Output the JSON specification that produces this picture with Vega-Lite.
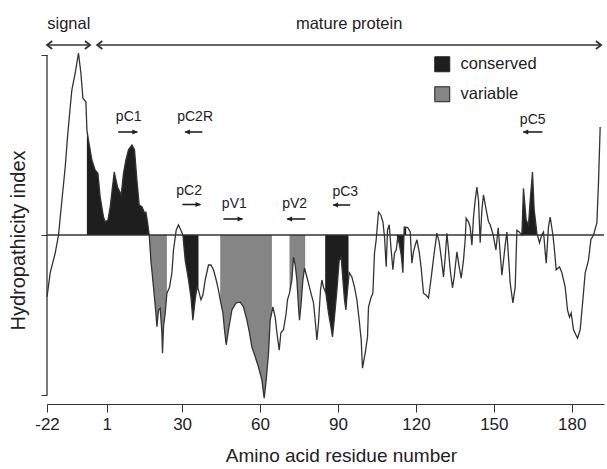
{
  "$schema": "https://vega.github.io/schema/vega-lite/v6.json",
  "autosize": {"type": "none"},
  "padding": {"left": 47, "top": 15, "right": 3, "bottom": 65},
  "width": 557,
  "height": 389,
  "config": {
    "view": {"stroke": null},
    "axis": {"grid": false, "labelFont": "Liberation Sans", "titleFont": "Liberation Sans", "labelColor": "#222", "titleColor": "#222", "domainColor": "#333", "tickColor": "#333", "titleFontWeight": "normal"},
    "text": {"font": "Liberation Sans", "color": "#222"},
    "legend": {"labelFont": "Liberation Sans"}
  },
  "datasets": {
    "profile": [
      {"x": -22.00, "y": -1.03}, {"x": -20.77, "y": -0.63}, {"x": -18.84, "y": -0.30}, {"x": -17.57, "y": 0.00}, {"x": -16.26, "y": 0.58}, {"x": -14.99, "y": 1.13}, {"x": -14.11, "y": 1.63}, {"x": -13.07, "y": 2.13}, {"x": -12.42, "y": 2.42}, {"x": -11.15, "y": 2.70}, {"x": -9.88, "y": 3.03}, {"x": -8.95, "y": 2.70}, {"x": -8.18, "y": 2.28}, {"x": -7.03, "y": 2.22}, {"x": -6.64, "y": 1.75}, {"x": -6.03, "y": 1.58}, {"x": -4.72, "y": 1.25}, {"x": -3.45, "y": 1.08}, {"x": -2.41, "y": 1.03}, {"x": -1.52, "y": 0.63}, {"x": -0.25, "y": 0.30}, {"x": 0.40, "y": 0.22}, {"x": 1.44, "y": 0.25}, {"x": 2.33, "y": 0.47}, {"x": 3.87, "y": 1.05}, {"x": 5.14, "y": 0.80}, {"x": 6.56, "y": 0.67}, {"x": 7.45, "y": 1.03}, {"x": 8.37, "y": 1.25}, {"x": 9.37, "y": 1.42}, {"x": 10.68, "y": 1.50}, {"x": 11.68, "y": 1.42}, {"x": 12.60, "y": 0.92}, {"x": 13.49, "y": 0.50}, {"x": 14.53, "y": 0.47}, {"x": 15.53, "y": 0.37}, {"x": 16.07, "y": 0.38}, {"x": 16.68, "y": 0.22}, {"x": 17.34, "y": 0.00}, {"x": 17.99, "y": -0.42}, {"x": 18.99, "y": -0.87}, {"x": 19.92, "y": -1.30}, {"x": 20.30, "y": -1.53}, {"x": 20.92, "y": -1.25}, {"x": 21.57, "y": -1.22}, {"x": 22.23, "y": -1.63}, {"x": 22.46, "y": -1.97}, {"x": 22.84, "y": -1.53}, {"x": 23.50, "y": -1.30}, {"x": 24.15, "y": -0.97}, {"x": 25.15, "y": -0.87}, {"x": 26.08, "y": -0.63}, {"x": 26.69, "y": -0.25}, {"x": 27.73, "y": 0.08}, {"x": 28.62, "y": 0.17}, {"x": 29.54, "y": 0.08}, {"x": 30.31, "y": 0.00}, {"x": 31.19, "y": -0.42}, {"x": 32.47, "y": -0.75}, {"x": 33.39, "y": -1.03}, {"x": 34.16, "y": -1.42}, {"x": 35.04, "y": -1.08}, {"x": 35.70, "y": -0.87}, {"x": 36.31, "y": -0.92}, {"x": 37.24, "y": -1.08}, {"x": 38.01, "y": -1.00}, {"x": 38.89, "y": -0.75}, {"x": 40.16, "y": -0.50}, {"x": 41.09, "y": -0.50}, {"x": 42.09, "y": -0.58}, {"x": 43.13, "y": -0.75}, {"x": 44.01, "y": -0.92}, {"x": 44.67, "y": -1.08}, {"x": 45.71, "y": -1.30}, {"x": 46.32, "y": -1.58}, {"x": 46.98, "y": -1.83}, {"x": 47.86, "y": -1.58}, {"x": 49.17, "y": -1.25}, {"x": 50.83, "y": -1.13}, {"x": 52.36, "y": -1.12}, {"x": 53.64, "y": -1.20}, {"x": 54.94, "y": -1.42}, {"x": 55.94, "y": -1.63}, {"x": 56.87, "y": -1.87}, {"x": 58.14, "y": -2.03}, {"x": 59.41, "y": -2.20}, {"x": 60.72, "y": -2.42}, {"x": 61.60, "y": -2.72}, {"x": 62.37, "y": -2.42}, {"x": 63.26, "y": -1.97}, {"x": 63.91, "y": -1.42}, {"x": 64.95, "y": -1.20}, {"x": 65.84, "y": -1.37}, {"x": 66.49, "y": -1.63}, {"x": 67.38, "y": -1.92}, {"x": 68.03, "y": -1.63}, {"x": 69.03, "y": -1.58}, {"x": 70.07, "y": -1.30}, {"x": 70.57, "y": -1.08}, {"x": 71.34, "y": -0.97}, {"x": 72.26, "y": -0.75}, {"x": 72.88, "y": -0.37}, {"x": 73.53, "y": -0.50}, {"x": 74.19, "y": -0.75}, {"x": 74.81, "y": -1.20}, {"x": 75.19, "y": -1.42}, {"x": 75.84, "y": -1.13}, {"x": 76.50, "y": -0.75}, {"x": 77.11, "y": -0.55}, {"x": 78.04, "y": -0.70}, {"x": 79.31, "y": -0.92}, {"x": 80.58, "y": -1.13}, {"x": 81.23, "y": -1.42}, {"x": 81.89, "y": -1.75}, {"x": 82.50, "y": -1.47}, {"x": 83.27, "y": -0.92}, {"x": 83.81, "y": -0.75}, {"x": 84.43, "y": -0.87}, {"x": 85.35, "y": -0.97}, {"x": 86.35, "y": -1.30}, {"x": 87.28, "y": -1.53}, {"x": 87.89, "y": -1.70}, {"x": 88.55, "y": -1.42}, {"x": 89.59, "y": -0.92}, {"x": 90.47, "y": -0.42}, {"x": 91.24, "y": -0.37}, {"x": 91.89, "y": -0.75}, {"x": 92.51, "y": -1.08}, {"x": 93.05, "y": -1.25}, {"x": 93.67, "y": -0.92}, {"x": 94.32, "y": -0.63}, {"x": 95.36, "y": -0.70}, {"x": 96.36, "y": -0.87}, {"x": 97.28, "y": -1.08}, {"x": 98.17, "y": -1.42}, {"x": 98.94, "y": -1.75}, {"x": 99.44, "y": -2.22}, {"x": 100.48, "y": -1.97}, {"x": 101.36, "y": -1.70}, {"x": 101.75, "y": -1.20}, {"x": 102.67, "y": -1.05}, {"x": 103.44, "y": -0.97}, {"x": 104.06, "y": -0.30}, {"x": 104.71, "y": -0.08}, {"x": 105.60, "y": 0.38}, {"x": 106.52, "y": 0.33}, {"x": 107.29, "y": 0.22}, {"x": 107.91, "y": -0.03}, {"x": 108.56, "y": -0.53}, {"x": 109.06, "y": 0.08}, {"x": 109.72, "y": 0.17}, {"x": 110.37, "y": -0.20}, {"x": 111.14, "y": -0.58}, {"x": 111.76, "y": -0.30}, {"x": 112.41, "y": -0.25}, {"x": 113.07, "y": -0.03}, {"x": 113.68, "y": -0.17}, {"x": 114.34, "y": -0.33}, {"x": 114.99, "y": -0.63}, {"x": 115.49, "y": 0.13}, {"x": 116.26, "y": 0.13}, {"x": 116.91, "y": 0.12}, {"x": 117.80, "y": 0.05}, {"x": 118.45, "y": -0.47}, {"x": 119.07, "y": -0.28}, {"x": 119.72, "y": -0.17}, {"x": 120.38, "y": -0.08}, {"x": 121.26, "y": -0.28}, {"x": 122.03, "y": -0.55}, {"x": 122.92, "y": -0.97}, {"x": 123.84, "y": -1.00}, {"x": 124.84, "y": -1.05}, {"x": 125.77, "y": -0.75}, {"x": 127.04, "y": -0.30}, {"x": 128.08, "y": 0.03}, {"x": 128.96, "y": -0.12}, {"x": 129.73, "y": -0.37}, {"x": 130.62, "y": -0.70}, {"x": 131.27, "y": -0.37}, {"x": 131.93, "y": 0.03}, {"x": 132.54, "y": -0.25}, {"x": 133.20, "y": -0.58}, {"x": 134.08, "y": -0.88}, {"x": 134.74, "y": -0.70}, {"x": 135.78, "y": -0.28}, {"x": 136.66, "y": -0.53}, {"x": 137.43, "y": -0.72}, {"x": 138.32, "y": -0.42}, {"x": 138.97, "y": -0.08}, {"x": 139.35, "y": 0.28}, {"x": 140.24, "y": 0.22}, {"x": 140.89, "y": 0.13}, {"x": 141.55, "y": -0.17}, {"x": 142.17, "y": 0.30}, {"x": 142.82, "y": 0.58}, {"x": 143.47, "y": 0.80}, {"x": 144.09, "y": 0.58}, {"x": 144.74, "y": -0.13}, {"x": 145.40, "y": 0.42}, {"x": 146.01, "y": 0.67}, {"x": 147.05, "y": 0.42}, {"x": 147.94, "y": 0.22}, {"x": 148.59, "y": 0.17}, {"x": 149.75, "y": 0.00}, {"x": 150.79, "y": -0.25}, {"x": 151.67, "y": 0.12}, {"x": 153.10, "y": -0.67}, {"x": 154.37, "y": -0.17}, {"x": 155.02, "y": 0.05}, {"x": 156.29, "y": -0.80}, {"x": 157.33, "y": -1.13}, {"x": 158.22, "y": -0.87}, {"x": 158.87, "y": 0.08}, {"x": 159.76, "y": 0.05}, {"x": 160.79, "y": 0.00}, {"x": 161.41, "y": 0.78}, {"x": 162.45, "y": 0.25}, {"x": 163.33, "y": 0.17}, {"x": 163.99, "y": 0.58}, {"x": 164.87, "y": 1.05}, {"x": 165.53, "y": 0.42}, {"x": 166.57, "y": 0.03}, {"x": 167.57, "y": -0.13}, {"x": 168.42, "y": 0.00}, {"x": 169.11, "y": 0.05}, {"x": 170.15, "y": -0.47}, {"x": 171.03, "y": 0.13}, {"x": 171.69, "y": 0.30}, {"x": 172.73, "y": 0.00}, {"x": 173.23, "y": -0.20}, {"x": 174.00, "y": -0.58}, {"x": 175.27, "y": -0.53}, {"x": 176.19, "y": -0.63}, {"x": 177.46, "y": -0.87}, {"x": 178.35, "y": -1.25}, {"x": 179.12, "y": -1.37}, {"x": 179.77, "y": -1.30}, {"x": 180.66, "y": -1.58}, {"x": 182.20, "y": -1.72}, {"x": 183.23, "y": -1.58}, {"x": 184.27, "y": -1.08}, {"x": 185.16, "y": -0.63}, {"x": 186.43, "y": -0.42}, {"x": 187.35, "y": -0.08}, {"x": 188.35, "y": 0.00}, {"x": 189.66, "y": 0.20}, {"x": 190.28, "y": 0.87}, {"x": 190.93, "y": 1.80}
    ],
    "regions": [
      {"seg": "A", "type": "conserved", "x": -6.64, "y": 1.75}, {"seg": "A", "type": "conserved", "x": -6.03, "y": 1.58}, {"seg": "A", "type": "conserved", "x": -4.72, "y": 1.25}, {"seg": "A", "type": "conserved", "x": -3.45, "y": 1.08}, {"seg": "A", "type": "conserved", "x": -2.41, "y": 1.03}, {"seg": "A", "type": "conserved", "x": -1.52, "y": 0.63}, {"seg": "A", "type": "conserved", "x": -0.25, "y": 0.30}, {"seg": "A", "type": "conserved", "x": 0.40, "y": 0.22}, {"seg": "A", "type": "conserved", "x": 1.44, "y": 0.25}, {"seg": "A", "type": "conserved", "x": 2.33, "y": 0.47}, {"seg": "A", "type": "conserved", "x": 3.87, "y": 1.05}, {"seg": "A", "type": "conserved", "x": 5.14, "y": 0.80}, {"seg": "A", "type": "conserved", "x": 6.56, "y": 0.67}, {"seg": "A", "type": "conserved", "x": 7.45, "y": 1.03}, {"seg": "A", "type": "conserved", "x": 8.37, "y": 1.25}, {"seg": "A", "type": "conserved", "x": 9.37, "y": 1.42}, {"seg": "A", "type": "conserved", "x": 10.68, "y": 1.50}, {"seg": "A", "type": "conserved", "x": 11.68, "y": 1.42}, {"seg": "A", "type": "conserved", "x": 12.60, "y": 0.92}, {"seg": "A", "type": "conserved", "x": 13.49, "y": 0.50}, {"seg": "A", "type": "conserved", "x": 14.53, "y": 0.47}, {"seg": "A", "type": "conserved", "x": 15.53, "y": 0.37}, {"seg": "A", "type": "conserved", "x": 16.07, "y": 0.38}, {"seg": "A", "type": "conserved", "x": 16.68, "y": 0.22}, {"seg": "A", "type": "conserved", "x": 17.34, "y": 0.00},
      {"seg": "B", "type": "variable", "x": 17.34, "y": 0.00}, {"seg": "B", "type": "variable", "x": 17.99, "y": -0.42}, {"seg": "B", "type": "variable", "x": 18.99, "y": -0.87}, {"seg": "B", "type": "variable", "x": 19.92, "y": -1.30}, {"seg": "B", "type": "variable", "x": 20.30, "y": -1.53}, {"seg": "B", "type": "variable", "x": 20.92, "y": -1.25}, {"seg": "B", "type": "variable", "x": 21.57, "y": -1.22}, {"seg": "B", "type": "variable", "x": 22.23, "y": -1.63}, {"seg": "B", "type": "variable", "x": 22.46, "y": -1.97}, {"seg": "B", "type": "variable", "x": 22.84, "y": -1.53}, {"seg": "B", "type": "variable", "x": 23.50, "y": -1.30}, {"seg": "B", "type": "variable", "x": 24.15, "y": -0.97},
      {"seg": "C", "type": "conserved", "x": 30.31, "y": 0.00}, {"seg": "C", "type": "conserved", "x": 31.19, "y": -0.42}, {"seg": "C", "type": "conserved", "x": 32.47, "y": -0.75}, {"seg": "C", "type": "conserved", "x": 33.39, "y": -1.03}, {"seg": "C", "type": "conserved", "x": 34.16, "y": -1.42}, {"seg": "C", "type": "conserved", "x": 35.04, "y": -1.08}, {"seg": "C", "type": "conserved", "x": 35.70, "y": -0.87}, {"seg": "C", "type": "conserved", "x": 36.31, "y": -0.92},
      {"seg": "D", "type": "variable", "x": 44.67, "y": -1.08}, {"seg": "D", "type": "variable", "x": 45.71, "y": -1.30}, {"seg": "D", "type": "variable", "x": 46.32, "y": -1.58}, {"seg": "D", "type": "variable", "x": 46.98, "y": -1.83}, {"seg": "D", "type": "variable", "x": 47.86, "y": -1.58}, {"seg": "D", "type": "variable", "x": 49.17, "y": -1.25}, {"seg": "D", "type": "variable", "x": 50.83, "y": -1.13}, {"seg": "D", "type": "variable", "x": 52.36, "y": -1.12}, {"seg": "D", "type": "variable", "x": 53.64, "y": -1.20}, {"seg": "D", "type": "variable", "x": 54.94, "y": -1.42}, {"seg": "D", "type": "variable", "x": 55.94, "y": -1.63}, {"seg": "D", "type": "variable", "x": 56.87, "y": -1.87}, {"seg": "D", "type": "variable", "x": 58.14, "y": -2.03}, {"seg": "D", "type": "variable", "x": 59.41, "y": -2.20}, {"seg": "D", "type": "variable", "x": 60.72, "y": -2.42}, {"seg": "D", "type": "variable", "x": 61.60, "y": -2.72}, {"seg": "D", "type": "variable", "x": 62.37, "y": -2.42}, {"seg": "D", "type": "variable", "x": 63.26, "y": -1.97}, {"seg": "D", "type": "variable", "x": 63.91, "y": -1.42}, {"seg": "D", "type": "variable", "x": 64.57, "y": -1.29},
      {"seg": "E", "type": "variable", "x": 71.34, "y": -0.97}, {"seg": "E", "type": "variable", "x": 72.26, "y": -0.75}, {"seg": "E", "type": "variable", "x": 72.88, "y": -0.37}, {"seg": "E", "type": "variable", "x": 73.53, "y": -0.50}, {"seg": "E", "type": "variable", "x": 74.19, "y": -0.75}, {"seg": "E", "type": "variable", "x": 74.81, "y": -1.20}, {"seg": "E", "type": "variable", "x": 75.19, "y": -1.42}, {"seg": "E", "type": "variable", "x": 75.84, "y": -1.13}, {"seg": "E", "type": "variable", "x": 76.50, "y": -0.75}, {"seg": "E", "type": "variable", "x": 77.11, "y": -0.55}, {"seg": "E", "type": "variable", "x": 77.38, "y": -0.60},
      {"seg": "F", "type": "conserved", "x": 85.08, "y": -0.94}, {"seg": "F", "type": "conserved", "x": 85.35, "y": -0.97}, {"seg": "F", "type": "conserved", "x": 86.35, "y": -1.30}, {"seg": "F", "type": "conserved", "x": 87.28, "y": -1.53}, {"seg": "F", "type": "conserved", "x": 87.89, "y": -1.70}, {"seg": "F", "type": "conserved", "x": 88.55, "y": -1.42}, {"seg": "F", "type": "conserved", "x": 89.59, "y": -0.92}, {"seg": "F", "type": "conserved", "x": 90.47, "y": -0.42}, {"seg": "F", "type": "conserved", "x": 91.24, "y": -0.37}, {"seg": "F", "type": "conserved", "x": 91.89, "y": -0.75}, {"seg": "F", "type": "conserved", "x": 92.51, "y": -1.08}, {"seg": "F", "type": "conserved", "x": 93.05, "y": -1.25}, {"seg": "F", "type": "conserved", "x": 93.67, "y": -0.92}, {"seg": "F", "type": "conserved", "x": 94.05, "y": -0.75},
      {"seg": "G", "type": "conserved", "x": 112.68, "y": -0.15}, {"seg": "G", "type": "conserved", "x": 113.07, "y": -0.03}, {"seg": "G", "type": "conserved", "x": 113.68, "y": -0.17}, {"seg": "G", "type": "conserved", "x": 114.34, "y": -0.33}, {"seg": "G", "type": "conserved", "x": 114.99, "y": -0.63}, {"seg": "G", "type": "conserved", "x": 115.49, "y": 0.13}, {"seg": "G", "type": "conserved", "x": 116.26, "y": 0.13},
      {"seg": "H", "type": "conserved", "x": 160.79, "y": 0.00}, {"seg": "H", "type": "conserved", "x": 161.41, "y": 0.78}, {"seg": "H", "type": "conserved", "x": 162.45, "y": 0.25}, {"seg": "H", "type": "conserved", "x": 163.33, "y": 0.17}, {"seg": "H", "type": "conserved", "x": 163.99, "y": 0.58}, {"seg": "H", "type": "conserved", "x": 164.87, "y": 1.05}, {"seg": "H", "type": "conserved", "x": 165.53, "y": 0.42}, {"seg": "H", "type": "conserved", "x": 166.57, "y": 0.03}, {"seg": "H", "type": "conserved", "x": 166.80, "y": 0.00}
    ],
    "primers": [
      {"label": "pC1", "lx": 9.45, "ly": 1.967, "x1": 5.4, "x2": 12.7, "y": 1.717, "dir": "right"},
      {"label": "pC2R", "lx": 35.0, "ly": 1.967, "x1": 31.2, "x2": 37.8, "y": 1.717, "dir": "left"},
      {"label": "pC2", "lx": 32.7, "ly": 0.733, "x1": 30.1, "x2": 37.0, "y": 0.508, "dir": "right"},
      {"label": "pV1", "lx": 50.1, "ly": 0.517, "x1": 45.9, "x2": 53.2, "y": 0.267, "dir": "right"},
      {"label": "pV2", "lx": 73.3, "ly": 0.517, "x1": 70.5, "x2": 77.4, "y": 0.267, "dir": "left"},
      {"label": "pC3", "lx": 92.8, "ly": 0.717, "x1": 88.2, "x2": 94.7, "y": 0.5, "dir": "left"},
      {"label": "pC5", "lx": 164.95, "ly": 1.917, "x1": 161.4, "x2": 168.7, "y": 1.717, "dir": "left"}
    ],
    "spans": [
      {"name": "signal", "x1": -22.0, "x2": -5.4, "y": 3.167, "tx": -13.6, "ty": 3.517},
      {"name": "mature protein", "x1": -2.7, "x2": 191.3, "y": 3.167, "tx": 94.3, "ty": 3.517}
    ]
  },
  "layer": [
    {
      "data": {"name": "regions"},
      "mark": {"type": "area", "interpolate": "linear", "opacity": 1},
      "encoding": {
        "x": {"field": "x", "type": "quantitative", "scale": {"domain": [-22, 192.4], "nice": false, "zero": false},
          "axis": {"values": [-22, 1, 30, 60, 90, 120, 150, 180], "labelExpr": "'' + datum.value", "labelFontSize": 17, "tickSize": 8, "labelPadding": 4, "labelFlush": false, "labelOverlap": false, "title": "Amino acid residue number", "titleFontSize": 19, "titleX": 294, "titleY": 51, "titleBaseline": "middle"}},
        "y": {"field": "y", "type": "quantitative", "stack": null, "scale": {"domain": [-2.817, 3.667], "nice": false, "zero": false},
          "axis": {"values": [-2.667, 0, 3], "labels": false, "domain": false, "tickSize": 6, "title": "Hydropathicity index", "titleFontSize": 20, "titleX": -29, "titleY": 225, "titleBaseline": "middle", "titleAlign": "center", "titleAngle": -90}},
        "y2": {"datum": 0},
        "detail": {"field": "seg"},
        "fill": {"field": "type", "type": "nominal", "scale": {"domain": ["conserved", "variable"], "range": ["#1e1e1e", "#858585"]},
          "legend": {"orient": "none", "legendX": 387, "legendY": 41, "title": null, "symbolType": "square", "symbolSize": 225, "symbolStrokeColor": "#222", "symbolStrokeWidth": 1, "labelFontSize": 16.5, "labelColor": "#222", "rowPadding": 10, "labelOffset": 10}}
      }
    },
    {
      "data": {"name": "profile"},
      "mark": {"type": "line", "color": "#333", "strokeWidth": 1.3, "interpolate": "linear"},
      "encoding": {"x": {"field": "x", "type": "quantitative"}, "y": {"field": "y", "type": "quantitative"}}
    },
    {
      "data": {"values": [{}]},
      "mark": {"type": "rule", "color": "#333", "strokeWidth": 1.3},
      "encoding": {"y": {"datum": 0}}
    },
    {
      "data": {"values": [{}]},
      "mark": {"type": "rule", "color": "#333", "strokeWidth": 1.3},
      "encoding": {"x": {"datum": -22}, "y": {"datum": -2.667}, "y2": {"datum": 3}}
    },
    {
      "data": {"name": "primers"},
      "mark": {"type": "text", "fontSize": 14, "align": "center", "baseline": "middle"},
      "encoding": {"x": {"field": "lx", "type": "quantitative"}, "y": {"field": "ly", "type": "quantitative"}, "text": {"field": "label"}}
    },
    {
      "data": {"name": "primers"},
      "mark": {"type": "rule", "color": "#222", "strokeWidth": 1.6},
      "encoding": {"x": {"field": "x1", "type": "quantitative"}, "x2": {"field": "x2"}, "y": {"field": "y", "type": "quantitative"}}
    },
    {
      "data": {"name": "primers"},
      "transform": [{"filter": "datum.dir == 'right'"}],
      "mark": {"type": "point", "filled": true, "shape": "M 0.3 0 L -1.6 -0.8 L -1.6 0.8 Z", "size": 36, "color": "#222", "opacity": 1},
      "encoding": {"x": {"field": "x2", "type": "quantitative"}, "y": {"field": "y", "type": "quantitative"}}
    },
    {
      "data": {"name": "primers"},
      "transform": [{"filter": "datum.dir == 'left'"}],
      "mark": {"type": "point", "filled": true, "shape": "M -0.3 0 L 1.6 -0.8 L 1.6 0.8 Z", "size": 36, "color": "#222", "opacity": 1},
      "encoding": {"x": {"field": "x1", "type": "quantitative"}, "y": {"field": "y", "type": "quantitative"}}
    },
    {
      "data": {"name": "spans"},
      "mark": {"type": "rule", "color": "#333", "strokeWidth": 1.6},
      "encoding": {"x": {"field": "x1", "type": "quantitative"}, "x2": {"field": "x2"}, "y": {"field": "y", "type": "quantitative"}}
    },
    {
      "data": {"name": "spans"},
      "mark": {"type": "text", "fontSize": 16.5, "align": "center", "baseline": "middle"},
      "encoding": {"x": {"field": "tx", "type": "quantitative"}, "y": {"field": "ty", "type": "quantitative"}, "text": {"field": "name"}}
    },
    {
      "data": {"name": "spans"},
      "mark": {"type": "point", "filled": false, "shape": "M 1.3 -1 L 0 0 L 1.3 1", "strokeWidth": 1.8, "color": "#333", "size": 64, "opacity": 1},
      "encoding": {"x": {"field": "x1", "type": "quantitative"}, "y": {"field": "y", "type": "quantitative"}}
    },
    {
      "data": {"name": "spans"},
      "mark": {"type": "point", "filled": false, "shape": "M -1.3 -1 L 0 0 L -1.3 1", "strokeWidth": 1.8, "color": "#333", "size": 64, "opacity": 1},
      "encoding": {"x": {"field": "x2", "type": "quantitative"}, "y": {"field": "y", "type": "quantitative"}}
    }
  ]
}
